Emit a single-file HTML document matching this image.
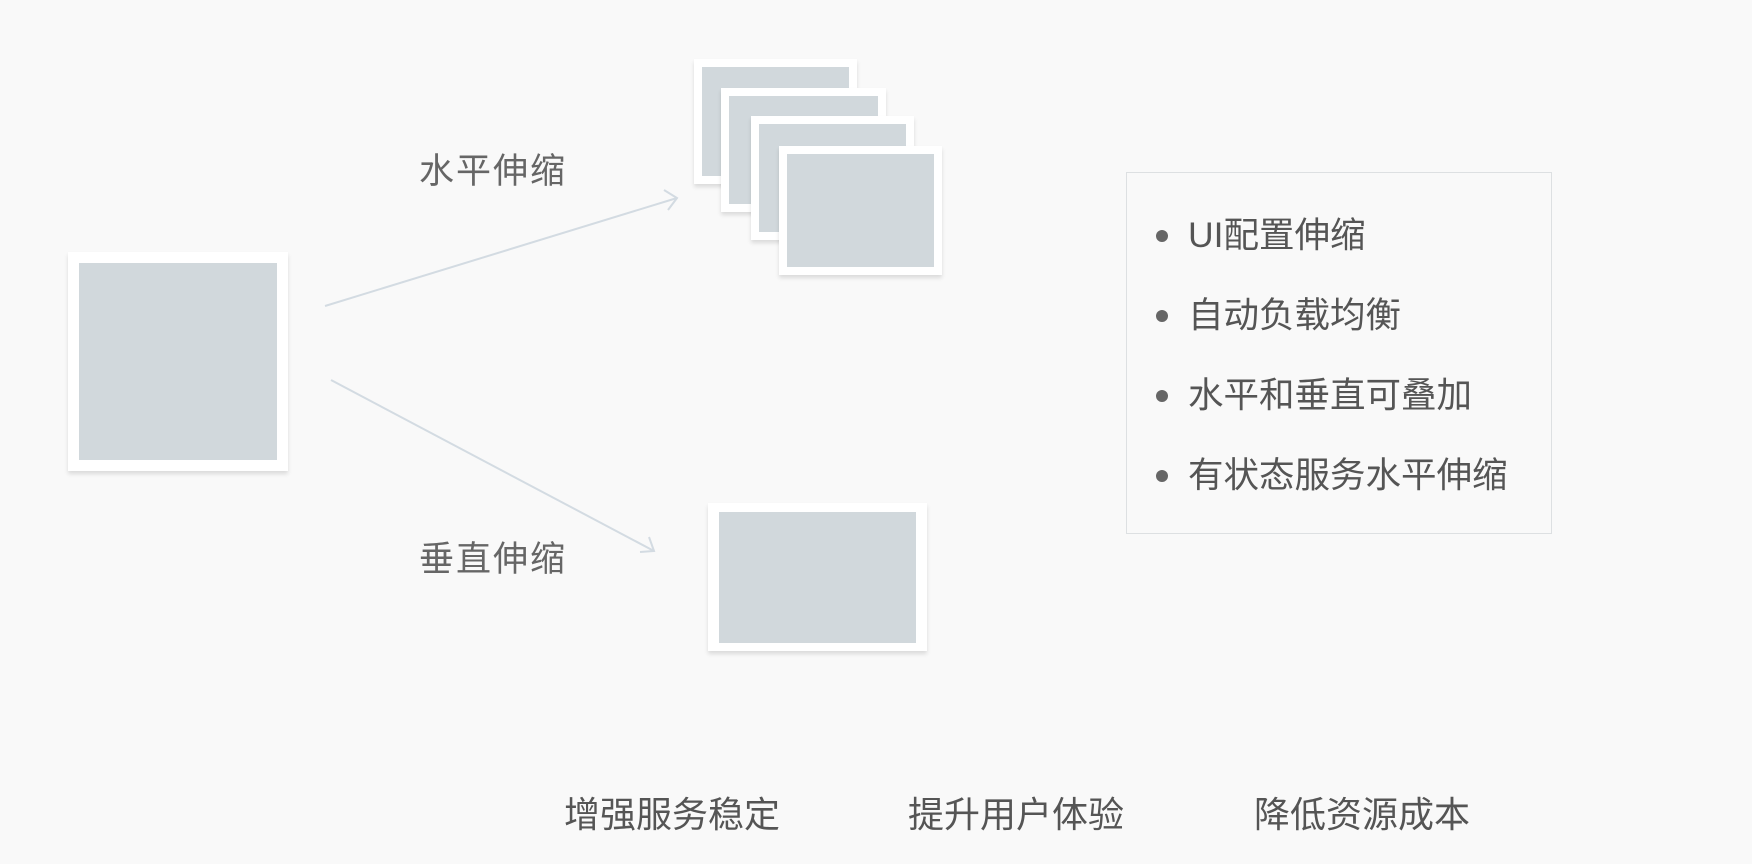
<!DOCTYPE html>
<html><head><meta charset="utf-8"><style>
body{margin:0;width:1752px;height:864px;background:#f9f9f9;position:relative;overflow:hidden;font-family:"Liberation Sans","Noto Sans CJK SC",sans-serif;color:#555}
.b{position:absolute;background:#d1d8dc;box-shadow:0 3px 4px rgba(0,0,0,0.12);box-sizing:border-box}
.t{position:absolute;white-space:nowrap;line-height:1}
.l{font-size:35.5px}
</style></head><body>
<div class="b" style="left:68px;top:252px;width:220px;height:219px;border:11px solid #fff"></div>
<div class="b" style="left:694px;top:59px;width:163px;height:125px;border:8px solid #fff"></div>
<div class="b" style="left:721px;top:88px;width:165px;height:124px;border:8px solid #fff"></div>
<div class="b" style="left:751px;top:116px;width:163px;height:124px;border:8px solid #fff"></div>
<div class="b" style="left:779px;top:146px;width:163px;height:129px;border:8px solid #fff"></div>
<div class="b" style="left:708px;top:503px;width:219px;height:148px;border:11px solid #fff;border-top-width:9px;border-bottom-width:8px"></div>
<svg width="1752" height="864" style="position:absolute;left:0;top:0">
<g stroke="#d3dbe2" stroke-width="2" fill="none">
<line x1="325" y1="306" x2="677" y2="198"/>
<polyline points="664,190 677,198 668,210"/>
<line x1="331" y1="380" x2="654" y2="551"/>
<polyline points="649,537 654,551 640,552"/>
</g></svg>
<div class="t" style="left:419px;top:154px;font-size:35px;letter-spacing:2px;color:#666">水平伸缩</div>
<div class="t" style="left:419px;top:542px;font-size:35px;letter-spacing:2px;color:#666">垂直伸缩</div>
<div style="position:absolute;left:1126px;top:172px;width:426px;height:362px;border:1px solid #dde0e2;box-sizing:border-box"></div>
<div class="t l" style="left:1188px;top:218px">UI配置伸缩</div>
<div class="t l" style="left:1188px;top:298px">自动负载均衡</div>
<div class="t l" style="left:1188px;top:378px">水平和垂直可叠加</div>
<div class="t l" style="left:1188px;top:458px">有状态服务水平伸缩</div>
<div style="position:absolute;left:1156px;top:230px;width:12px;height:12px;border-radius:50%;background:#666"></div>
<div style="position:absolute;left:1156px;top:310px;width:12px;height:12px;border-radius:50%;background:#666"></div>
<div style="position:absolute;left:1156px;top:390px;width:12px;height:12px;border-radius:50%;background:#666"></div>
<div style="position:absolute;left:1156px;top:470px;width:12px;height:12px;border-radius:50%;background:#666"></div>
<div class="t" style="left:564px;top:797px;font-size:36px">增强服务稳定</div>
<div class="t" style="left:908px;top:797px;font-size:36px">提升用户体验</div>
<div class="t" style="left:1254px;top:797px;font-size:36px">降低资源成本</div>
</body></html>
